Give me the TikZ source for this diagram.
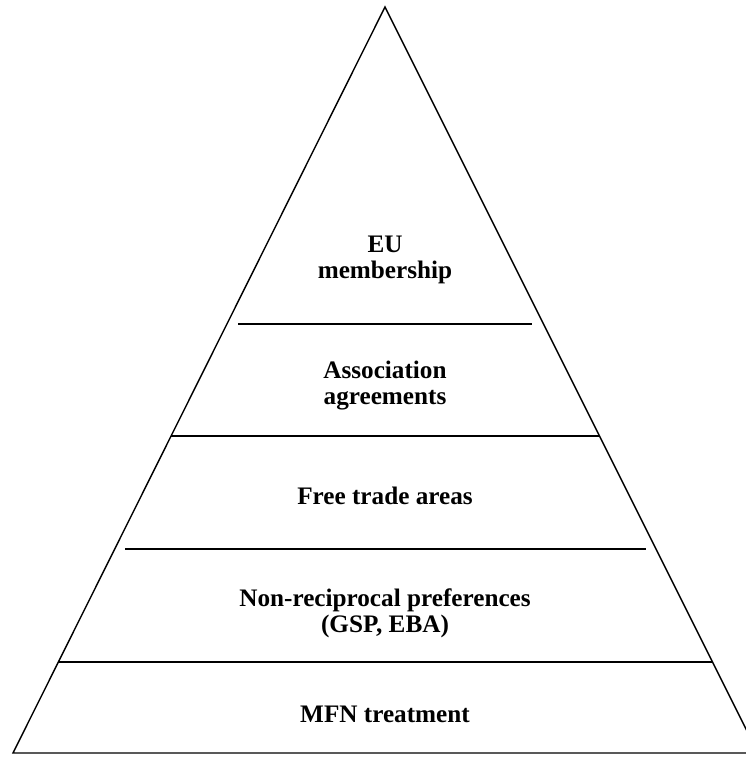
\documentclass[tikz,border=0pt]{standalone}
\usepackage{fontspec}
\setmainfont{Liberation Serif}
\begin{document}
\begin{tikzpicture}[x=1pt,y=-1pt,line width=1.4pt,
    level/.style={font=\bfseries\fontsize{25.2}{26}\selectfont,align=center}]
      \useasboundingbox (0,0) rectangle (746,757);
      \clip (0,0) rectangle (746,757);
      % pyramid
      \coordinate (top) at (385,7);
      \coordinate (bl) at (13,753);
      \coordinate (br) at (758,753);
      \draw [line join=miter] (bl) -- (top) -- (br) -- cycle;
      % dividing lines
      \foreach \y/\l/\r in {324/238/532,436/171/600,549/125/646,662/59/712}{
        \coordinate (l\y) at (\l,\y);
        \coordinate (r\y) at (\r,\y);
        \draw (l\y) -- (r\y);
      }
      % labels
      \node [level] (eu) at (385,260) {EU\\membership};
      \node [level] (assoc) at (385,386) {Association\\agreements};
      \node [level] (fta) at (385,496) {Free trade areas};
      \node [level] (nrp) at (385,613) {Non-reciprocal preferences\\(GSP, EBA)};
      \node [level] (mfn) at (385,714) {MFN treatment};
    \end{tikzpicture}
\end{document}
